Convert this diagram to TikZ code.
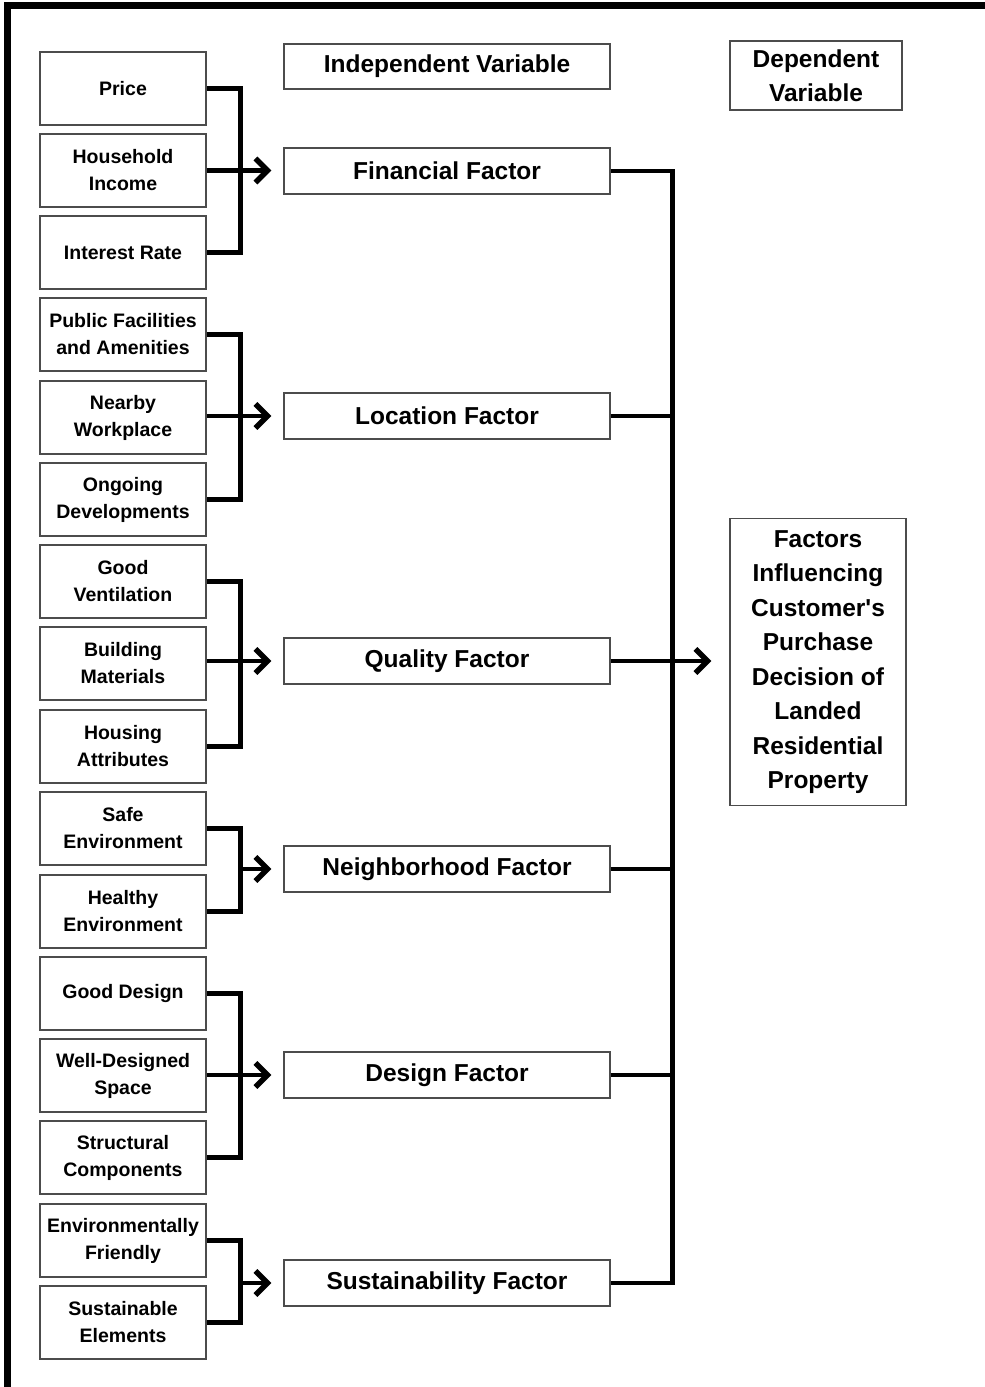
\documentclass[tikz,border=0pt]{standalone}
\usepackage{fontspec}
\setmainfont{Liberation Sans}
\usetikzlibrary{arrows.meta}
\begin{document}
\begin{tikzpicture}[x=1pt,y=-1pt,
  box/.style={draw=black!70, line width=1.3pt, rectangle, inner sep=0pt, align=center},
  lbox/.style={box, minimum width=166pt, minimum height=73pt, font=\bfseries\fontsize{19.5}{27}\selectfont},
  fbox/.style={box, minimum width=326pt, minimum height=46pt, font=\bfseries\fontsize{24.5}{34.5}\selectfont},
  dbox/.style={box, font=\bfseries\fontsize{24.5}{34.5}\selectfont},
  conn/.style={line width=4.6pt},
  arr/.style={conn, -{Straight Barb[length=12pt,width=24pt,line width=5.5pt 0]}}]
\useasboundingbox (0,0) rectangle (985,1387);
\draw[line width=7pt] (7.5,1400) -- (7.5,5.5) -- (995,5.5);

% left boxes
\node[lbox] (p1)  at (123,88.5)   {Price};
\node[lbox] (p2)  at (123,170.5)  {Household\\Income};
\node[lbox] (p3)  at (123,252.5)  {Interest Rate};
\node[lbox] (p4)  at (123,334.5)  {Public Facilities\\and Amenities};
\node[lbox] (p5)  at (123,417.5)  {Nearby\\Workplace};
\node[lbox] (p6)  at (123,499.5)  {Ongoing\\Developments};
\node[lbox] (p7)  at (123,581.5)  {Good\\Ventilation};
\node[lbox] (p8)  at (123,663.5)  {Building\\Materials};
\node[lbox] (p9)  at (123,746.5)  {Housing\\Attributes};
\node[lbox] (p10) at (123,828.5)  {Safe\\Environment};
\node[lbox] (p11) at (123,911.5)  {Healthy\\Environment};
\node[lbox] (p12) at (123,993.5)  {Good Design};
\node[lbox] (p13) at (123,1075.5) {Well-Designed\\Space};
\node[lbox] (p14) at (123,1157.5) {Structural\\Components};
\node[lbox] (p15) at (123,1240.5) {Environmentally\\Friendly};
\node[lbox] (p16) at (123,1322.5) {Sustainable\\Elements};

% factor boxes
\node[fbox, minimum height=45pt] (iv) at (447,66.5) {Independent Variable};
\node[fbox] (f1) at (447,171)  {Financial Factor};
\node[fbox] (f2) at (447,416)  {Location Factor};
\node[fbox] (f3) at (447,661)  {Quality Factor};
\node[fbox] (f4) at (447,869)  {Neighborhood Factor};
\node[fbox] (f5) at (447,1075) {Design Factor};
\node[fbox] (f6) at (447,1283) {Sustainability Factor};

% dependent boxes
\node[dbox, minimum width=172pt, minimum height=69pt] (dv) at (816,75.5) {Dependent\\Variable};
\node[dbox, minimum width=176pt, minimum height=287pt] (dep) at (818,662)
  {Factors\\Influencing\\Customer\textquotesingle s\\Purchase\\Decision of\\Landed\\Residential\\Property};

% brackets
\draw[conn] (p1.east) -- ++(34,0) |- (p3.east);
\draw[arr, shorten >=12pt] (p2.east) -- (p2.east -| f1.west);
\draw[conn] (p4.east) -- ++(34,0) |- (p6.east);
\draw[arr, shorten >=12pt] (p5.east |- f2.west) -- (f2.west);
\draw[conn] (p7.east) -- ++(34,0) |- (p9.east);
\draw[arr, shorten >=12pt] (p8.east |- f3.west) -- (f3.west);
\draw[conn] (p10.east) -- ++(34,0) |- (p11.east);
\draw[arr, shorten >=12pt] ([xshift=34pt]p10.east |- f4.west) -- (f4.west);
\draw[conn] (p12.east) -- ++(34,0) |- (p14.east);
\draw[arr, shorten >=12pt] (p13.east |- f5.west) -- (f5.west);
\draw[conn] (p15.east) -- ++(34,0) |- (p16.east);
\draw[arr, shorten >=12pt] ([xshift=34pt]p15.east |- f6.west) -- (f6.west);

% right bus
\draw[conn] (f1.east) -- ++(62,0) |- (f6.east);
\draw[conn] (f2.east) -- ++(62,0);
\draw[conn] (f4.east) -- ++(62,0);
\draw[conn] (f5.east) -- ++(62,0);
\draw[arr, shorten >=18pt] (f3.east) -- (f3.east -| dep.west);
\end{tikzpicture}
\end{document}
